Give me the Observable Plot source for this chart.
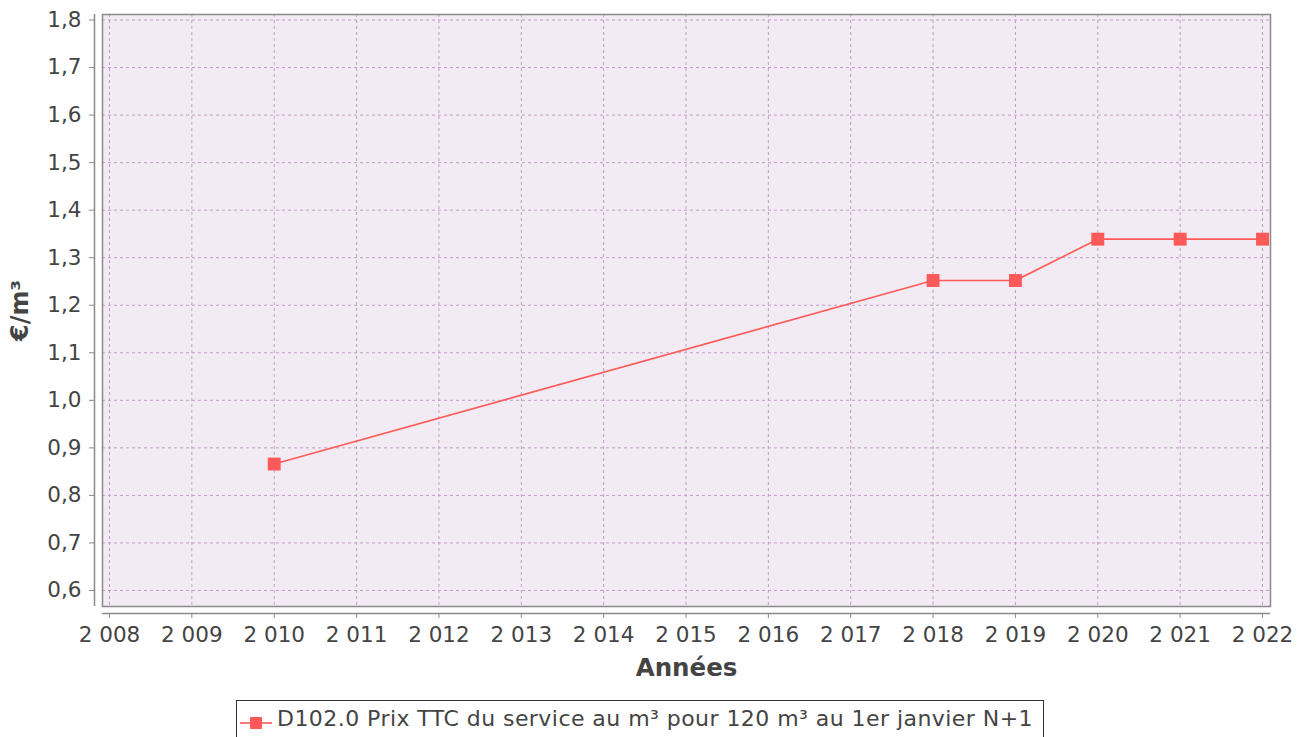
<!DOCTYPE html>
<html>
<head>
<meta charset="utf-8">
<script src="https://cdn.jsdelivr.net/npm/d3@7"></script>
<script src="https://cdn.jsdelivr.net/npm/@observablehq/plot@0.6"></script>
<style>
  html, body { margin: 0; padding: 0; background: #fff; }
  #chart svg { display: block; }
  #legend {
    position: absolute; left: 236px; top: 700px; width: 808px; height: 50px;
    border: 1px solid #333; box-sizing: border-box; background: #fff;
    font-family: "DejaVu Sans", sans-serif; font-size: 22px; letter-spacing: 0.45px; color: #444;
    display: flex; align-items: flex-start; padding-top: 5px; white-space: nowrap;
  }
  #legend svg { margin: 5px 5px 0 3px; }
</style>
</head>
<body>
<div id="chart"></div>
<div id="legend"></div>
<script>
const years = [2010, 2018, 2019, 2020, 2021, 2022];
const prices = [0.866, 1.252, 1.252, 1.339, 1.339, 1.339];
const xTicks = [2008, 2009, 2010, 2011, 2012, 2013, 2014, 2015, 2016, 2017, 2018, 2019, 2020, 2021, 2022];
const yTicks = [0.6, 0.7, 0.8, 0.9, 1.0, 1.1, 1.2, 1.3, 1.4, 1.5, 1.6, 1.7, 1.8];
const seriesName = "D102.0 Prix TTC du service au m³ pour 120 m³ au 1er janvier N+1";
const xLabel = "Années";
const yLabel = "€/m³";

const data = years.map((y, i) => ({year: y, price: prices[i]}));
const xDomain = [2007.915, 2022.097];
const yDomain = [0.5663, 1.8116];
const lineColor = "#ff5a5a";
const gridColor = "#c29cc8";
const axisColor = "#8a8a8a";
const textColor = "#444";

const fmtY = d => d.toFixed(1).replace(".", ",");
const fmtX = d => String(d).replace(/(\d)(\d{3})$/, "$1 $2");

const chart = Plot.plot({
  width: 1311,
  height: 695,
  marginLeft: 102,
  marginRight: 41,
  marginTop: 14,
  marginBottom: 89,
  style: {fontFamily: "DejaVu Sans, sans-serif", background: "#fff"},
  x: {domain: xDomain, axis: null},
  y: {domain: yDomain, axis: null},
  marks: [
    Plot.frame({fill: "#f3ebf3", stroke: null}),
    Plot.ruleX(xTicks, {stroke: gridColor, strokeDasharray: "3,3", strokeWidth: 1}),
    Plot.ruleY(yTicks, {stroke: gridColor, strokeDasharray: "3,3", strokeWidth: 1}),
    Plot.frame({stroke: axisColor, strokeWidth: 1.5}),
    Plot.ruleX([xDomain[0]], {y1: yDomain[0], y2: yDomain[1], dx: -8, stroke: axisColor, strokeWidth: 1.5}),
    Plot.ruleY([yDomain[0]], {x1: xDomain[0], x2: xDomain[1], dy: 7, stroke: axisColor, strokeWidth: 1.5}),
    Plot.axisY(yTicks, {anchor: "left", tickSize: 5, dx: -8, tickPadding: 8, tickFormat: fmtY,
      fontSize: 21.5, fill: textColor, stroke: axisColor, label: null}),
    Plot.axisX(xTicks, {anchor: "bottom", tickSize: 5, dy: 7, tickPadding: 8, tickFormat: fmtX,
      fontSize: 21.5, fill: textColor, stroke: axisColor, label: null}),
    Plot.text([xLabel], {frameAnchor: "bottom", dy: 69, fontWeight: "bold", fontSize: 24.5, fill: textColor,
      textAnchor: "middle", style: "letter-spacing:0.6px"}),
    Plot.text([yLabel], {frameAnchor: "left", dx: -82, rotate: -90, textAnchor: "middle", fontWeight: "bold", fontSize: 24, fill: textColor}),
    Plot.line(data, {x: "year", y: "price", stroke: lineColor, strokeWidth: 1.6}),
    Plot.dot(data, {x: "year", y: "price", symbol: "square", r: 7.3, fill: lineColor, stroke: null})
  ]
});
document.getElementById("chart").appendChild(chart);

const legend = document.getElementById("legend");
legend.innerHTML = `<svg width="32" height="24"><line x1="0" y1="12" x2="32" y2="12" stroke="${lineColor}" stroke-width="1.6"/><rect x="10" y="6" width="12" height="12" fill="${lineColor}"/></svg><span>${seriesName}</span>`;
</script>
</body>
</html>
